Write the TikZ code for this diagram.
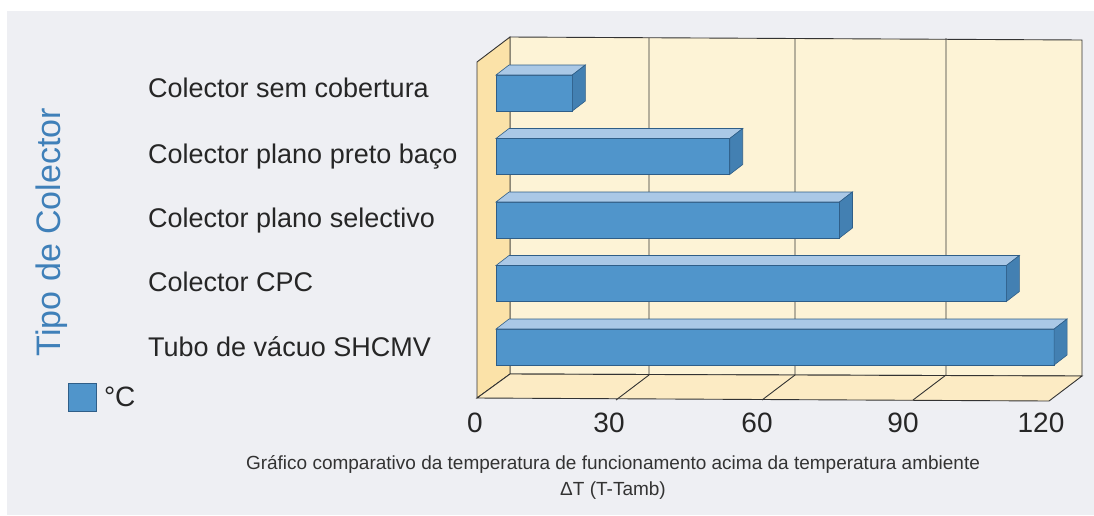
\documentclass[tikz,border=0pt]{standalone}
\usepackage{fontspec}
\setmainfont{Liberation Sans}
\usetikzlibrary{positioning,calc}
\definecolor{bgrey}{HTML}{EEEFF3}
\definecolor{wback}{HTML}{FDF3D6}
\definecolor{wside}{HTML}{FBE2A8}
\definecolor{wfloor}{HTML}{FCEBC4}
\definecolor{bfront}{HTML}{5095CB}
\definecolor{btop}{HTML}{AAC8E6}
\definecolor{bside}{HTML}{4380B2}
\definecolor{bedge}{HTML}{2F5E88}
\definecolor{tblue}{HTML}{3F80B9}
\tikzstyle{l1}=[line width=0.9, draw=black!80]
\tikzstyle{bedg}=[line width=0.6, draw=bedge]
\tikzstyle{clabel}=[anchor=base west, inner sep=0pt, text=black!85, font=\fontsize{27}{27}\selectfont]
\tikzstyle{nlabel}=[anchor=base, inner sep=0pt, text=black!85, font=\fontsize{28}{28}\selectfont]
\tikzstyle{caption}=[anchor=base, inner sep=0pt, text=black!80, font=\fontsize{19}{19}\selectfont]

\begin{document}
\begin{tikzpicture}[x=1pt, y=-1pt]
    \useasboundingbox (0,0) rectangle (1094,515);
    \fill[white] (0,0) rectangle (1094,515);
    \fill[bgrey] (7,11) rectangle (1094,515);

    % walls and floor
    \draw[l1, fill=wback] (510,37) -- (1082,40) -- (1082,376) -- (510,374) -- cycle;
    \draw[l1, fill=wside] (477,62) -- (510,37) -- (510,374) -- (477,398) -- cycle;
    \draw[l1, fill=wfloor] (477,398) -- (510,374) -- (1082,376) -- (1049,401) -- cycle;
    \foreach \x in {649,795,946} {
        \draw[l1] (\x,38) -- (\x,375) -- (\x-33,400);
    }

    % bars
    \foreach \v/\yc [count=\i] in {16/93,49/156.5,72/220,107/283.5,117/347} {
        \pgfmathsetmacro\xr{496+4.77*\v}
        \draw[bedg, fill=bfront] (496,\yc-18) rectangle (\xr,\yc+18);
        \draw[bedg, fill=btop] (496,\yc-18) -- (509,\yc-28) -- (\xr+13,\yc-28) -- (\xr,\yc-18) -- cycle;
        \draw[bedg, fill=bside] (\xr,\yc-18) -- (\xr+13,\yc-28) -- (\xr+13,\yc+8) -- (\xr,\yc+18) -- cycle;
    }

    % labels
    \foreach \t/\yb [count=\i] in {Colector sem cobertura/97, Colector plano preto baço/163,
        Colector plano selectivo/227, Colector CPC/291, Tubo de vácuo SHCMV/356} {
        \node[clabel] (lab\i) at (148,\yb) {\t};
    }
    \foreach \t/\x in {0/475,30/609,60/757,90/903,120/1041} {
        \node[nlabel] (n\t) at (\x,432) {\t};
    }
    \node[rotate=90, anchor=base, inner sep=0pt, text=tblue, font=\fontsize{34}{34}\selectfont] (tipo) at (60,232) {Tipo de Colector};

    \node[bedg, fill=bfront, minimum size=28pt, inner sep=0pt] (key) at (82.5,397) {};
    \node[right=7pt of key, inner sep=0pt, text=black!85, font=\fontsize{28}{28}\selectfont] (keyl) {°C};

    \node[caption] (cap1) at (613,469) {Gráfico comparativo da temperatura de funcionamento acima da temperatura ambiente};
    \node[caption] (cap2) at (613,495) {ΔT (T-Tamb)};
\end{tikzpicture}
\end{document}
